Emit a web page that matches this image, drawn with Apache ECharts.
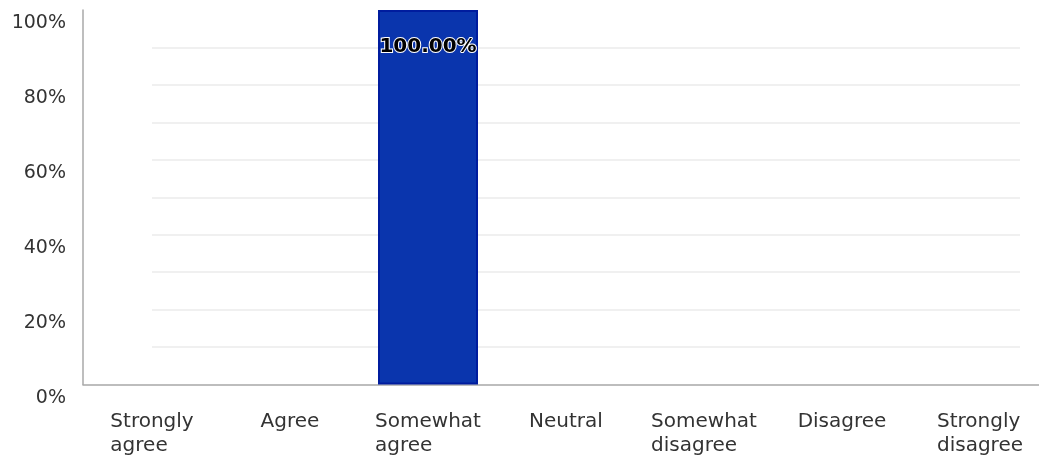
<!DOCTYPE html>
<html>
<head>
<meta charset="utf-8">
<script src="https://cdn.jsdelivr.net/npm/echarts@6/dist/echarts.min.js"></script>
<style>
  html, body { margin: 0; padding: 0; background: #ffffff; }
  #chart { width: 1039px; height: 460px; }
</style>
</head>
<body>
<div id="chart"></div>
<script>
// Answer options and share of responses (%)
const categories = ['Strongly\nagree', 'Agree', 'Somewhat\nagree', 'Neutral', 'Somewhat\ndisagree', 'Disagree', 'Strongly\ndisagree'];
const shares = [0, 0, 100, 0, 0, 0, 0];
const yTickStep = 20;
const gridStep = 10;

const FONT = 'DejaVu Sans';
const TEXT = '#333333';

// empty answers get no outline, so no flat line is drawn on the axis
const barData = shares.map(v => ({
  value: v,
  itemStyle: { borderWidth: v > 0 ? 2 : 0 }
}));

const chart = echarts.init(document.getElementById('chart'), null, { renderer: 'canvas' });

chart.setOption({
  backgroundColor: '#ffffff',
  animation: false,
  grid: [
    // main plotting area with both axes (bands run slightly past the right edge)
    { left: 83, width: 966, top: 10, bottom: 75.5, containLabel: false, outerBoundsMode: 'none' },
    // inset area that carries the horizontal guide lines
    { left: 152, right: 19, top: 10, bottom: 75.5, containLabel: false, outerBoundsMode: 'none' }
  ],
  xAxis: [
    {
      type: 'category',
      gridIndex: 0,
      data: categories,
      axisLine: { show: true, lineStyle: { color: '#a8a8a8', width: 1.5 } },
      axisTick: { show: false },
      splitLine: { show: false },
      axisLabel: {
        interval: 0,
        margin: 25,
        fontFamily: FONT,
        fontSize: 20,
        color: TEXT,
        align: 'center',
        lineHeight: 24,
        formatter: v => v.split('\n').map(s => '{l|' + s + '}').join('\n'),
        rich: {
          l: { align: 'left', fontFamily: FONT, fontSize: 20, color: TEXT, lineHeight: 24 }
        }
      }
    },
    {
      type: 'value',
      gridIndex: 1,
      show: false
    }
  ],
  yAxis: [
    {
      type: 'value',
      gridIndex: 0,
      min: 0,
      max: 100,
      interval: yTickStep,
      axisLine: { show: true, lineStyle: { color: '#a8a8a8', width: 1.5 } },
      axisTick: { show: false },
      splitLine: { show: false },
      axisLabel: {
        margin: 17,
        fontFamily: FONT,
        fontSize: 19,
        color: TEXT,
        verticalAlign: 'top',
        lineHeight: 27,
        formatter: '{value}%'
      }
    },
    {
      type: 'value',
      gridIndex: 1,
      min: 0,
      max: 100,
      interval: gridStep,
      axisLine: { show: false },
      axisTick: { show: false },
      axisLabel: { show: false },
      splitLine: {
        show: true,
        showMinLine: false,
        showMaxLine: false,
        lineStyle: { color: '#ebebeb', width: 1.5 }
      }
    }
  ],
  series: [
    {
      type: 'bar',
      xAxisIndex: 0,
      yAxisIndex: 0,
      data: barData,
      barWidth: 100,
      itemStyle: {
        color: '#0a35ad',
        borderColor: '#001c9e'
      },
      label: {
        show: true,
        position: 'insideTop',
        distance: 27,
        fontFamily: FONT,
        fontSize: 20,
        fontWeight: 'bold',
        color: '#000000',
        textBorderColor: '#ffffff',
        textBorderWidth: 2,
        formatter: p => (p.value > 0 ? p.value.toFixed(2) + '%' : '')
      }
    }
  ]
});
</script>
</body>
</html>
